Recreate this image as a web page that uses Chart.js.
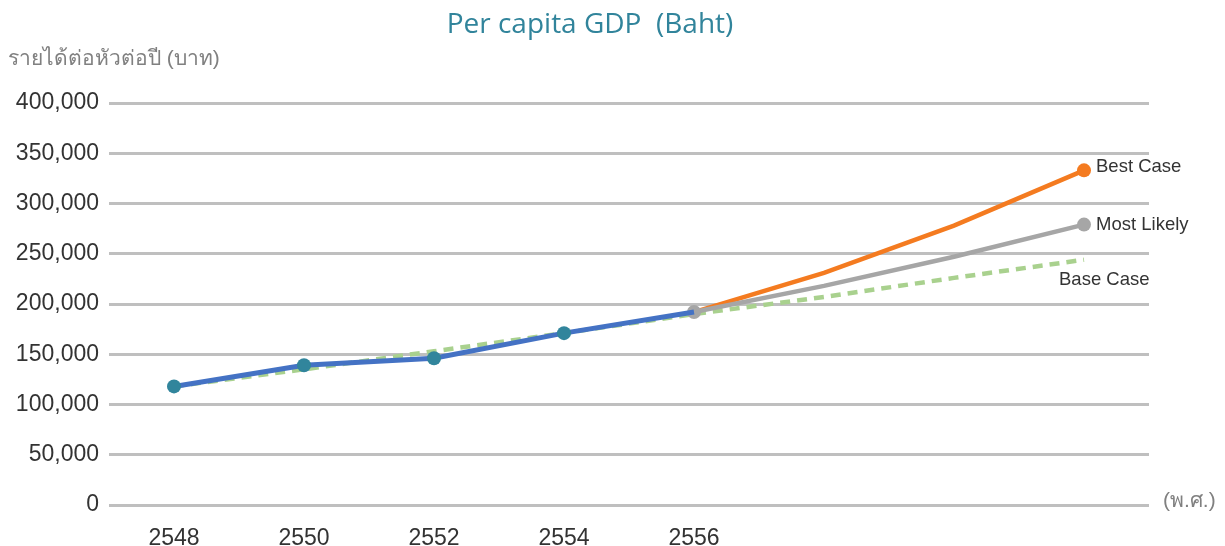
<!DOCTYPE html>
<html>
<head>
<meta charset="utf-8">
<script src="https://cdn.jsdelivr.net/npm/chart.js@4/dist/chart.umd.min.js"></script>
<style>
  html, body { margin: 0; padding: 0; background: #fff; }
  #wrap { width: 1225px; height: 546px; }
</style>
</head>
<body>
<div id="wrap"><canvas id="chart"></canvas></div>
<script>
const years = ["2548", "2550", "2552", "2554", "2556", "2558", "2560", "2562"];
const yearLabels = ["2548", "2550", "2552", "2554", "2556", "", "", ""];
const actual = [118000, 139000, 146000, 171000, 192000, null, null, null];
const bestCase = [null, null, null, null, 192000, 231000, 278000, 333000];
const mostLikely = [null, null, null, null, 192000, 218000, 247000, 279000];
const baseCase = [118000, 135000, 153000, 171000, 190000, 207000, 226000, 244000];
const yTicks = [0, 50000, 100000, 150000, 200000, 250000, 300000, 350000, 400000];

const textFont = '"Liberation Sans", "Noto Sans", sans-serif';

// only draw markers where the original chart shows them
const onlyAt = (idx, r) => (ctx) => (idx.includes(ctx.dataIndex) ? r : 0);

const extraText = {
  id: "extraText",
  afterDraw(chart) {
    const { ctx } = chart;
    const x = chart.scales.x;
    const y = chart.scales.y;
    ctx.save();
    ctx.textBaseline = "middle";

    ctx.fillStyle = "#31849B";
    ctx.font = '28px "Open Sans", "Noto Sans", sans-serif';
    ctx.textAlign = "center";
    ctx.fillText("Per capita GDP  (Baht)", 590, 25);

    ctx.textAlign = "left";
    ctx.fillStyle = "#808080";
    ctx.font = "21px " + textFont;
    ctx.fillText("รายได้ต่อหัวต่อปี (บาท)", 8, 59);
    ctx.fillText("(พ.ศ.)", 1163, 501);

    ctx.fillStyle = "#333";
    ctx.font = "18.5px " + textFont;
    const last = years.length - 1;
    const lx = x.getPixelForValue(last);
    ctx.fillText("Best Case", lx + 12, y.getPixelForValue(bestCase[last]) - 3);
    ctx.fillText("Most Likely", lx + 12, y.getPixelForValue(mostLikely[last]));
    ctx.fillText("Base Case", lx - 25, y.getPixelForValue(baseCase[last]) + 20);
    ctx.restore();
  },
};

new Chart(document.getElementById("chart"), {
  type: "line",
  data: {
    labels: years,
    datasets: [
      {
        label: "Base Case",
        data: baseCase,
        borderColor: "#A9D18E",
        borderWidth: 4.5,
        borderDash: [10, 7],
        pointRadius: 0,
        order: 4,
      },
      {
        label: "Most Likely",
        data: mostLikely,
        borderColor: "#A6A6A6",
        backgroundColor: "#A6A6A6",
        borderWidth: 4.5,
        pointRadius: onlyAt([4, 7], 7),
        pointBorderWidth: 0,
        order: 2,
      },
      {
        label: "Best Case",
        data: bestCase,
        borderColor: "#F47B20",
        backgroundColor: "#F47B20",
        borderWidth: 4.5,
        pointRadius: onlyAt([7], 7),
        pointBorderWidth: 0,
        order: 3,
      },
      {
        label: "Actual",
        data: actual,
        borderColor: "#4472C4",
        backgroundColor: "#31859C",
        borderWidth: 5,
        pointRadius: onlyAt([0, 1, 2, 3], 7),
        pointBorderWidth: 0,
        order: 1,
      },
    ],
  },
  options: {
    responsive: true,
    maintainAspectRatio: false,
    animation: false,
    layout: { padding: { top: 103, right: 76, left: 0, bottom: 0 } },
    plugins: {
      legend: { display: false },
      tooltip: { enabled: false },
    },
    scales: {
      x: {
        offset: true,
        grid: { display: false },
        border: { display: false },
        ticks: {
          padding: 12,
          color: "#333",
          font: { family: textFont, size: 23 },
          maxRotation: 0,
          autoSkip: false,
          callback: (v, i) => yearLabels[i],
        },
        afterFit: (s) => { s.height = 41; },
      },
      y: {
        min: 0,
        max: 400000,
        afterBuildTicks: (s) => { s.ticks = yTicks.map((v) => ({ value: v })); },
        grid: { color: "#BFBFBF", lineWidth: 3, drawTicks: false },
        border: { display: false },
        ticks: {
          padding: 10,
          color: "#333",
          font: { family: textFont, size: 23 },
          callback: (v) => v.toLocaleString("en-US"),
        },
        afterFit: (s) => { s.width = 109; },
      },
    },
  },
  plugins: [extraText],
});
</script>
</body>
</html>
